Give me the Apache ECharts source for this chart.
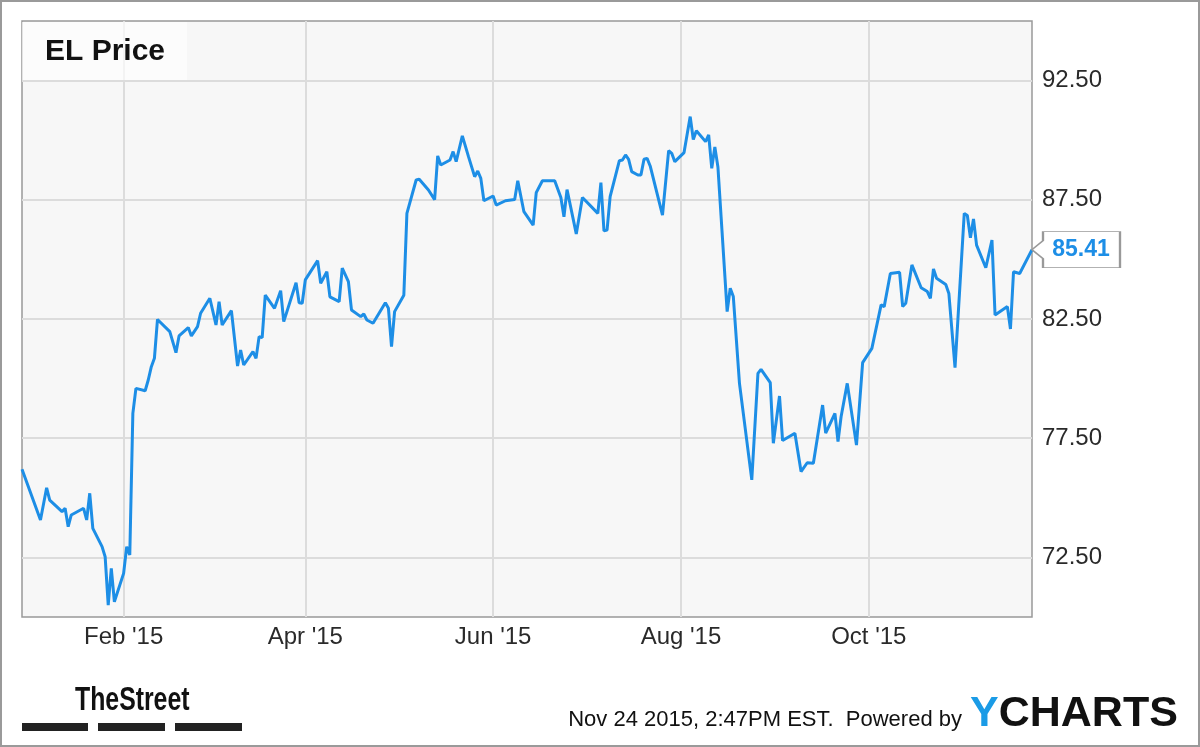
<!DOCTYPE html>
<html><head><meta charset="utf-8">
<script src="https://cdn.jsdelivr.net/npm/echarts@6/dist/echarts.min.js"></script>
<style>html,body{margin:0;padding:0;background:#fff}#c{width:1200px;height:747px}</style>
</head><body><div id="c"></div>
<script>
const dates = ['2014-12-30','2015-01-05','2015-01-07','2015-01-08','2015-01-12','2015-01-13','2015-01-14','2015-01-15','2015-01-19','2015-01-20','2015-01-21','2015-01-22','2015-01-25','2015-01-26','2015-01-27','2015-01-28','2015-01-29',
'2015-02-01','2015-02-02','2015-02-03','2015-02-04','2015-02-05','2015-02-08','2015-02-09','2015-02-10','2015-02-11','2015-02-12','2015-02-16','2015-02-18','2015-02-19','2015-02-22','2015-02-23','2015-02-25','2015-02-26',
'2015-03-01','2015-03-03','2015-03-04','2015-03-05','2015-03-08','2015-03-10','2015-03-11','2015-03-12','2015-03-15','2015-03-16','2015-03-17','2015-03-18','2015-03-19','2015-03-22','2015-03-24','2015-03-25','2015-03-29','2015-03-30','2015-03-31',
'2015-04-01','2015-04-05','2015-04-06','2015-04-08','2015-04-09','2015-04-12','2015-04-13','2015-04-15','2015-04-16','2015-04-19','2015-04-20','2015-04-21','2015-04-23','2015-04-27','2015-04-28','2015-04-29','2015-04-30',
'2015-05-03','2015-05-04','2015-05-07','2015-05-08','2015-05-11','2015-05-13','2015-05-14','2015-05-15','2015-05-18','2015-05-19','2015-05-20','2015-05-22','2015-05-24','2015-05-26','2015-05-27','2015-05-28','2015-05-29',
'2015-06-01','2015-06-02','2015-06-05','2015-06-08','2015-06-09','2015-06-11','2015-06-14','2015-06-15','2015-06-17','2015-06-21','2015-06-23','2015-06-24','2015-06-25','2015-06-28','2015-06-30',
'2015-07-05','2015-07-06','2015-07-07','2015-07-08','2015-07-09','2015-07-12','2015-07-13','2015-07-14','2015-07-15','2015-07-16','2015-07-18','2015-07-19','2015-07-20','2015-07-21','2015-07-22','2015-07-26','2015-07-28','2015-07-29','2015-07-30',
'2015-08-02','2015-08-04','2015-08-05','2015-08-06','2015-08-09','2015-08-10','2015-08-11','2015-08-12','2015-08-13','2015-08-16','2015-08-17','2015-08-18','2015-08-20','2015-08-24','2015-08-26','2015-08-27','2015-08-30','2015-08-31',
'2015-09-02','2015-09-03','2015-09-07','2015-09-09','2015-09-11','2015-09-13','2015-09-16','2015-09-17','2015-09-20','2015-09-21','2015-09-22','2015-09-24','2015-09-27','2015-09-29',
'2015-10-02','2015-10-05','2015-10-06','2015-10-08','2015-10-11','2015-10-12','2015-10-13','2015-10-15','2015-10-18','2015-10-20','2015-10-21','2015-10-22','2015-10-23','2015-10-26','2015-10-27','2015-10-29',
'2015-11-01','2015-11-02','2015-11-03','2015-11-04','2015-11-05','2015-11-08','2015-11-10','2015-11-11','2015-11-15','2015-11-16','2015-11-17','2015-11-19','2015-11-23'];

const prices = [76.2,74.07,75.42,74.9,74.42,74.56,73.79,74.28,74.56,74.07,75.19,73.72,72.95,72.53,70.5,72.04,70.64,
71.83,72.95,72.6,78.54,79.59,79.49,79.94,80.5,80.85,82.48,81.97,81.09,81.79,82.14,81.79,82.18,82.74,
83.37,82.25,83.23,82.25,82.85,80.53,81.2,80.57,81.13,80.85,81.76,81.72,83.5,82.95,83.69,82.39,84.02,83.18,83.16,
84.14,84.95,84.0,84.48,83.43,83.23,84.63,84.07,82.88,82.6,82.71,82.46,82.32,83.18,82.95,81.34,82.81,
83.5,86.93,88.33,88.36,87.91,87.51,89.34,88.96,89.17,89.52,89.1,90.18,89.31,88.47,88.71,88.4,87.46,
87.66,87.28,87.46,87.51,88.3,87.0,86.44,87.8,88.3,88.3,87.6,86.79,87.93,86.07,87.6,
86.93,88.22,86.2,86.23,87.63,89.14,89.17,89.38,89.2,88.68,88.54,88.54,89.2,89.24,88.92,86.86,89.56,89.45,89.1,
89.48,90.99,90.03,90.4,89.94,90.22,88.82,89.72,88.88,82.81,83.79,83.44,79.8,75.75,80.22,80.39,79.83,77.29,
79.27,77.4,77.71,76.1,76.47,76.45,78.89,77.71,78.54,77.36,78.4,79.8,77.21,80.67,
81.27,83.09,83.02,84.41,84.46,83.02,83.16,84.77,83.81,83.65,83.37,84.6,84.21,83.95,83.57,80.46,
86.93,86.84,85.91,86.7,85.6,84.65,85.81,82.67,83.02,82.08,84.48,84.41,85.41];

const xTickDates = ['2015-02-01','2015-04-01','2015-06-01','2015-08-01','2015-10-01'];
const xTickLabels = ["Feb '15","Apr '15","Jun '15","Aug '15","Oct '15"];
const yTicks = [72.5, 77.5, 82.5, 87.5, 92.5];
const xRange = ['2014-12-30','2015-11-23'];
const yRange = [70, 95];
const titleText = 'EL Price';
const stampText = 'Nov 24 2015, 2:47PM EST.  Powered by';
const brandLeft = 'TheStreet';
const brandY = 'Y';
const brandRest = 'CHARTS';

const toTime = s => { const p = s.split('-').map(Number); return Date.UTC(p[0], p[1]-1, p[2]); };
const seriesData = dates.map((d, i) => [toTime(d), prices[i]]);
const xTickTimes = xTickDates.map(toTime);
const lastPoint = seriesData[seriesData.length - 1];
const BLUE = '#1d8ee6';
const FONT = '"Liberation Sans", Arial, sans-serif';

const chart = echarts.init(document.getElementById('c'));
chart.setOption({
  animation: false,
  title: {
    text: titleText, left: 22, top: 22, padding: [15, 22, 13, 23],
    backgroundColor: 'rgba(255,255,255,0.65)',
    textStyle: { fontFamily: FONT, fontSize: 30, fontWeight: 'bold', color: '#111' }
  },
  grid: { left: 22, right: 168, top: 21, bottom: 130, show: true, backgroundColor: '#f7f7f7', borderColor: '#999', borderWidth: 1.5 },
  xAxis: {
    type: 'value', min: toTime(xRange[0]), max: toTime(xRange[1]),
    axisLine: { show: false },
    axisTick: { show: false, customValues: xTickTimes },
    axisLabel: {
      customValues: xTickTimes,
      formatter: v => {
        let best = -1, bd = Infinity;
        xTickTimes.forEach((t, i) => { const d = Math.abs(t - v); if (d < bd) { bd = d; best = i; } });
        return bd < 86400000 ? xTickLabels[best] : '';
      },
      fontFamily: FONT, fontSize: 24, color: '#2a2a2a', margin: 8
    },
    splitLine: { show: true, lineStyle: { color: '#dcdcdc', width: 2 } }
  },
  yAxis: {
    type: 'value', position: 'right', min: yRange[0], max: yRange[1],
    axisLine: { show: false },
    axisTick: { show: false, customValues: yTicks },
    axisLabel: { customValues: yTicks, formatter: v => Number(v).toFixed(2), fontFamily: FONT, fontSize: 24, color: '#2a2a2a', margin: 10, padding: [4, 0, 0, 0] },
    splitLine: { show: true, lineStyle: { color: '#dcdcdc', width: 2 } }
  },
  series: [{
    type: 'line', data: seriesData, showSymbol: false, clip: false,
    lineStyle: { color: BLUE, width: 3 },
    markPoint: {
      symbol: 'path://M0,18L11,9L11,0L88,0L88,36L11,36L11,27Z',
      symbolSize: [88, 36], symbolOffset: [44, 0],
      itemStyle: { color: '#fff', borderColor: '#999', borderWidth: 1.5 },
      label: { show: true, position: 'inside', offset: [5, 0], formatter: () => lastPoint[1].toFixed(2), color: BLUE, fontFamily: FONT, fontSize: 23, fontWeight: 'bold' },
      data: [{ coord: lastPoint }]
    }
  }],
  graphic: [
    { type: 'rect', shape: { x: 1, y: 1, width: 1198, height: 745 }, style: { fill: 'none', stroke: '#9a9a9a', lineWidth: 2 }, silent: true },
    { type: 'text', x: 75, y: 701, style: { text: brandLeft, font: 'bold 34px "Liberation Sans Narrow", "Liberation Sans", Arial', fill: '#111', textVerticalAlign: 'middle' }, scaleX: 0.73 },
    { type: 'rect', shape: { x: 22, y: 723, width: 66, height: 8 }, style: { fill: '#222' } },
    { type: 'rect', shape: { x: 98, y: 723, width: 67, height: 8 }, style: { fill: '#222' } },
    { type: 'rect', shape: { x: 175, y: 723, width: 67, height: 8 }, style: { fill: '#222' } },
    { type: 'text', x: 962, y: 720, style: { text: stampText, font: '22px "Liberation Sans", Arial', fill: '#111', textAlign: 'right', textVerticalAlign: 'middle' } },
    { type: 'text', x: 970, y: 714, style: {
        text: '{y|' + brandY + '}{c|' + brandRest + '}', textVerticalAlign: 'middle',
        rich: { y: { font: 'bold 43px "Liberation Sans", Arial', fill: '#1a9be6' }, c: { font: 'bold 43px "Liberation Sans", Arial', fill: '#111' } }
    } }
  ]
});
</script></body></html>
